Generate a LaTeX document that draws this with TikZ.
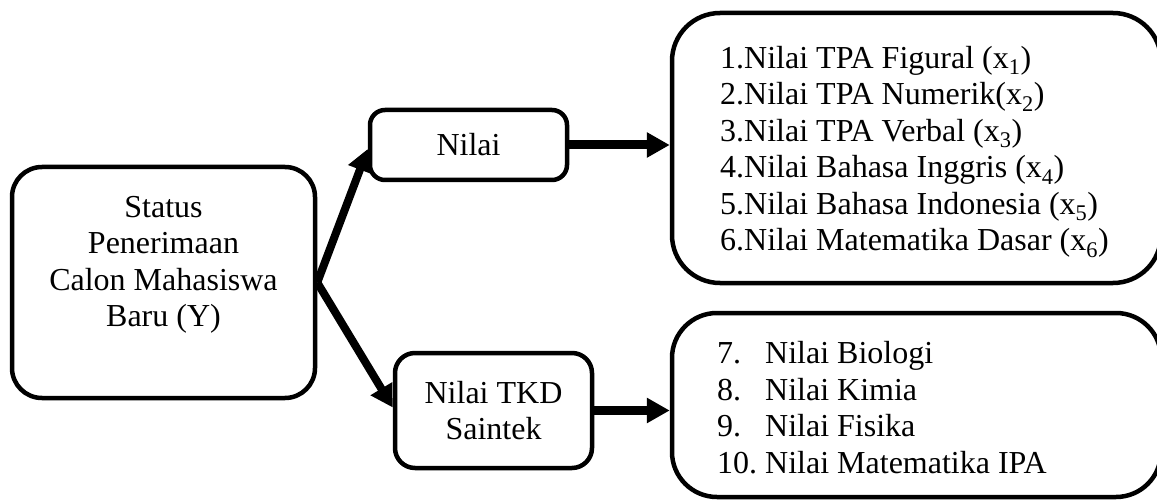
\documentclass[tikz,border=0pt]{standalone}
\usepackage{fontspec}
\setmainfont{Liberation Serif}
\usetikzlibrary{arrows.meta}

\begin{document}
\begin{tikzpicture}[x=1pt, y=-1pt,
  box/.style={draw=black, line width=4.5pt, fill=white, inner sep=0pt},
  txt/.style={font=\fontsize{32}{36.5}\selectfont, inner sep=0pt},
  bigarrow/.style={line width=9pt, -{Triangle[length=23pt,width=24pt]}},
  diagarrow/.style={line width=8pt, -{Triangle[length=22pt,width=24pt]}}
]
\useasboundingbox (0,0) rectangle (1157,500);

% source box
\node[box, rounded corners=30pt, minimum width=303pt, minimum height=231pt]
  (status) at (163.5,282.5) {};
\node[txt, align=center, anchor=north] (statustext) at (163.5,196)
  {Status\\Penerimaan\\Calon Mahasiswa\\Baru (Y)};

% middle boxes
\node[box, txt, rounded corners=15pt, minimum width=197pt, minimum height=70pt]
  (nilai) at (468.5,145) {Nilai};
\node[box, txt, align=center, rounded corners=20pt, minimum width=197pt, minimum height=115pt]
  (saintek) at (493.5,410.5) {Nilai TKD\\Saintek};

% list boxes (right edge runs past the page)
\node[box, rounded corners=48pt, minimum width=489pt, minimum height=270pt]
  (tpa) at (916.5,148) {};
\node[txt, align=left, anchor=west] (tpatext) at (720,152)
  {1.Nilai TPA Figural (x\textsubscript{1})\\
   2.Nilai TPA Numerik(x\textsubscript{2})\\
   3.Nilai TPA Verbal (x\textsubscript{3})\\
   4.Nilai Bahasa Inggris (x\textsubscript{4})\\
   5.Nilai Bahasa Indonesia (x\textsubscript{5})\\
   6.Nilai Matematika Dasar (x\textsubscript{6})};

\node[box, rounded corners=45pt, minimum width=489pt, minimum height=184pt]
  (ipa) at (916.5,405) {};
\node[txt, align=left, anchor=west] (ipatext) at (717,407.5)
  {\makebox[48pt][l]{7.}Nilai Biologi\\
   \makebox[48pt][l]{8.}Nilai Kimia\\
   \makebox[48pt][l]{9.}Nilai Fisika\\
   \makebox[48pt][l]{10.}Nilai Matematika IPA};

% connectors
\draw[diagarrow] (status.east) -- ([yshift=-4pt]nilai.west);
\draw[diagarrow] (status.east) -- ([yshift=3pt]saintek.west);
\draw[bigarrow] (nilai.east) -- (nilai.east -| tpa.west);
\draw[bigarrow] (saintek.east) -- (saintek.east -| ipa.west);
\end{tikzpicture}
\end{document}
